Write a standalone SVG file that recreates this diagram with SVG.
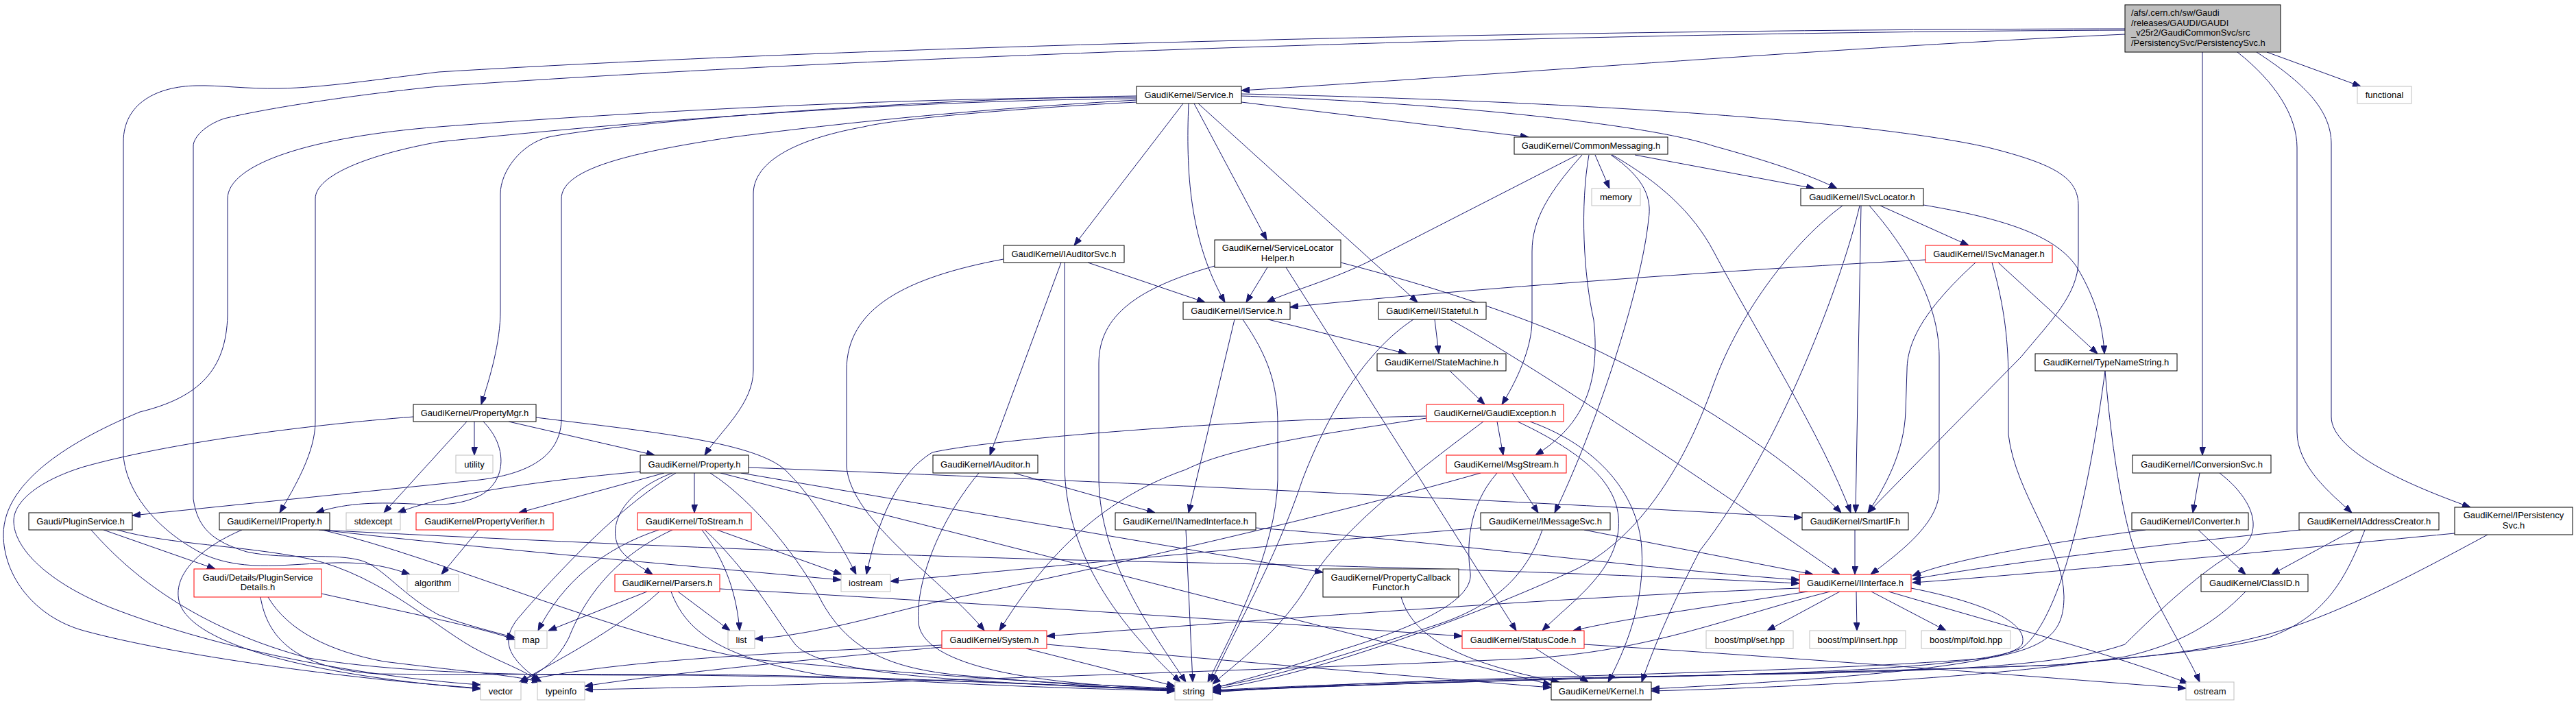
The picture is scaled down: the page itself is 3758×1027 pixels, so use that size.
<svg xmlns="http://www.w3.org/2000/svg" width="3758" height="1027" viewBox="0 0 3758 1027">
<defs>
<style>
.bg{fill:#ffffff}
.n rect{fill:#ffffff;stroke:#000000;stroke-width:1}
.r rect{fill:#ffffff;stroke:#ff0000;stroke-width:1}
.g rect{fill:#ffffff;stroke:#bfbfbf;stroke-width:1}
.m rect{fill:#bfbfbf;stroke:#000000;stroke-width:1}
text{font-family:"Liberation Sans",Arial,Helvetica,sans-serif;font-size:13px;fill:#000000;text-anchor:middle}
.m text{text-anchor:start}
#edges path{fill:none;stroke:#191970;stroke-width:1;marker-end:url(#ah)}
</style>
<marker id="ah" viewBox="0 0 12 9" refX="12" refY="4.5" markerWidth="12" markerHeight="9" markerUnits="userSpaceOnUse" orient="auto">
<path d="M0,0 L12,4.5 L0,9 z" fill="#191970" stroke="#191970" stroke-width="1"/>
</marker>
</defs>
<rect class="bg" x="0" y="0" width="3758" height="1027"/>

<g id="edges">
<path d="M3100,50 C2700,68 2200,108 1811,132"/>
<path d="M3307,76 L3444,126"/>
<path d="M3213,76 L3213,664"/>
<path d="M3264,76 C3320,120 3351,170 3351,215 L3351,630 C3351,680 3400,720 3431,748"/>
<path d="M3292,76 C3360,120 3401,160 3401,210 L3401,608 C3401,660 3520,710 3604,740"/>
<path d="M3100,42 C2300,43 1300,65 640,105 C550,116 470,128 408,129 C360,130 320,124 286,125 C230,126 180,150 180,207 L180,665 C185,720 230,775 300,810 C360,835 420,822 490,821 C540,820 570,828 598,838"/>
<path d="M3100,44 C2300,47 1300,80 640,126 C500,140 380,160 327,173 C300,182 282,200 282,213 L282,728 C288,770 310,790 360,805 C420,818 490,805 531,819 C560,830 590,870 640,897 C680,912 720,922 751,930"/>
<path d="M1811,149 L2230,200"/>
<path d="M1811,140 C2100,150 2400,180 2500,213 C2580,235 2640,255 2680,275"/>
<path d="M1811,137 C2200,145 2700,170 2900,215 C3000,240 3032,260 3032,300 L3032,380 C3032,430 2990,470 2949,520 L2725,748"/>
<path d="M1726,151 L1567,358"/>
<path d="M1734,151 C1730,250 1735,350 1787,441"/>
<path d="M1742,151 L1848,350"/>
<path d="M1748,151 L2068,441"/>
<path d="M1658,140 C1300,145 900,180 800,200 C760,210 730,250 730,283 L730,453 C730,500 715,550 702,590"/>
<path d="M1658,149 C1450,160 1300,175 1260,185 C1150,205 1099,240 1099,283 L1099,540 C1099,590 1050,630 1028,664"/>
<path d="M1658,146 C1500,155 1300,170 1069,200 C900,225 819,250 819,290 L819,610 C819,660 780,690 700,700 L193,752"/>
<path d="M1658,144 C1300,146 900,180 640,207 C540,225 460,255 460,290 L460,615 C460,660 430,710 408,748"/>
<path d="M1658,142 C1300,142 900,165 640,185 C450,200 332,240 332,290 L332,460 C330,540 290,580 204,601 C110,640 5,700 5,780 C5,840 50,900 122,920 C250,955 500,990 701,1004"/>
<path d="M692,615 L692,664"/>
<path d="M742,615 L955,664"/>
<path d="M681,615 L560,748"/>
<path d="M705,615 C740,650 740,700 702,722 C670,738 640,737 600,735 C540,732 500,735 461,748"/>
<path d="M782,609 C950,630 1110,645 1150,690 C1190,730 1230,800 1249,838"/>
<path d="M603,608 C450,620 250,645 122,681 C60,700 20,730 20,760 C20,800 70,850 163,887 C300,940 500,985 701,999"/>
<path d="M2327,226 L2348,275"/>
<path d="M2385,226 L2647,275"/>
<path d="M2301,226 L2000,380 C1940,410 1880,425 1848,441"/>
<path d="M2308,226 C2260,280 2235,320 2235,367 L2235,467 C2235,510 2210,560 2191,590"/>
<path d="M2318,226 C2305,300 2310,400 2325,467 C2335,560 2310,620 2240,664"/>
<path d="M2350,226 C2400,260 2410,290 2405,320 C2395,420 2330,620 2268,748"/>
<path d="M2352,226 C2420,265 2470,310 2500,367 C2560,480 2660,640 2700,748"/>
<path d="M2743,300 L2872,358"/>
<path d="M2806,299 C2930,320 3000,345 3030,390 C3060,440 3068,480 3070,516"/>
<path d="M2715,300 L2707,748"/>
<path d="M2727,300 C2780,360 2829,440 2829,520 L2829,715 C2829,760 2780,800 2729,838"/>
<path d="M2713,300 C2690,400 2600,650 2480,803 C2440,880 2410,950 2395,995"/>
<path d="M2688,300 C2620,350 2540,450 2500,560 C2450,700 2380,790 2300,830 C2150,900 1900,990 1769,1005"/>
<path d="M1587,383 L1758,441"/>
<path d="M1548,383 L1444,664"/>
<path d="M1553,383 L1553,680 C1555,800 1620,900 1722,995"/>
<path d="M1464,378 C1320,405 1235,450 1235,540 L1235,680 C1240,760 1380,850 1436,920"/>
<path d="M1849,390 L1818,441"/>
<path d="M1772,388 C1660,420 1603,460 1603,530 L1603,700 C1605,820 1680,920 1730,995"/>
<path d="M1876,390 L2212,920"/>
<path d="M1956,383 C2100,420 2250,470 2348,520 C2450,570 2600,660 2686,748"/>
<path d="M2809,379 C2500,395 2100,425 1882,448"/>
<path d="M2915,383 L3060,516"/>
<path d="M2882,383 C2820,440 2782,490 2782,540 L2780,600 C2778,660 2750,710 2725,748"/>
<path d="M2906,383 C2925,450 2930,500 2930,560 L2930,634 C2940,720 3011,800 3011,870 C3011,920 2990,945 2900,960 C2600,985 2100,985 1769,1010"/>
<path d="M1801,466 L1734,748"/>
<path d="M1850,466 L2052,516"/>
<path d="M1813,466 C1850,520 1864,560 1864,620 L1864,700 C1862,800 1800,920 1762,995"/>
<path d="M2093,466 L2099,516"/>
<path d="M2115,466 C2180,500 2400,640 2684,838"/>
<path d="M2062,466 C2010,500 1950,570 1900,700 C1860,820 1800,920 1767,995"/>
<path d="M2115,541 L2166,590"/>
<path d="M3071,541 C3050,700 3010,900 2950,945 C2880,980 2500,985 2300,990 C2000,998 1850,1005 1769,1008"/>
<path d="M3071,541 C3080,650 3095,740 3110,790 C3140,880 3190,950 3209,995"/>
<path d="M969,690 L757,748"/>
<path d="M1013,690 L1013,748"/>
<path d="M981,690 C900,720 880,780 912,810 C925,822 940,830 952,838"/>
<path d="M986,690 C900,740 800,850 755,903 C730,935 740,960 790,995"/>
<path d="M1036,690 C1100,730 1170,820 1200,880 C1240,950 1300,975 1400,985 C1550,998 1650,1005 1714,1008"/>
<path d="M1051,690 L2263,999"/>
<path d="M1081,690 L1930,835"/>
<path d="M1092,682 C1500,697 2200,730 2629,755"/>
<path d="M934,688 C800,700 650,720 580,748"/>
<path d="M2184,615 L2193,664"/>
<path d="M2214,615 C2330,670 2370,720 2360,780 C2350,840 2290,880 2250,920"/>
<path d="M2232,615 C2330,650 2390,720 2395,800 C2400,880 2370,950 2346,995"/>
<path d="M2081,607 C1800,612 1450,640 1360,660 C1310,690 1280,760 1264,838"/>
<path d="M2081,610 C1950,630 1800,650 1730,685 C1600,730 1520,820 1458,920"/>
<path d="M2164,615 C2050,700 1950,780 1910,850 C1870,920 1800,970 1769,998"/>
<path d="M2206,690 L2244,748"/>
<path d="M2184,690 C2140,740 2140,800 2145,836 C2150,880 2050,920 1950,950 C1880,975 1800,995 1769,1005"/>
<path d="M2160,690 C1950,750 1600,830 1380,875 C1300,892 1200,925 1101,932"/>
<path d="M1479,690 L1685,748"/>
<path d="M1428,690 C1370,760 1335,850 1340,910 C1350,980 1550,1000 1714,1005"/>
<path d="M151,773 L314,830"/>
<path d="M133,773 C200,850 300,920 450,960 C600,985 800,985 1000,985 C1400,990 1600,1003 1714,1006"/>
<path d="M171,773 C250,795 350,795 450,815 C560,840 640,920 700,950 C740,970 770,980 786,995"/>
<path d="M469,866 C600,895 700,915 751,933"/>
<path d="M380,871 C390,930 430,975 550,983 C700,985 900,982 1100,985 C1400,990 1600,1004 1714,1007"/>
<path d="M391,871 C420,920 480,950 560,965 C680,980 750,985 788,995"/>
<path d="M353,773 C290,800 250,840 262,880 C282,940 450,985 701,1005"/>
<path d="M470,773 C650,815 900,930 1100,962 C1400,990 1600,1000 1714,1004"/>
<path d="M465,773 C800,790 1300,812 1700,820 C2100,828 2400,840 2625,851"/>
<path d="M469,773 C700,800 1000,825 1227,846"/>
<path d="M961,773 C880,800 820,850 785,920"/>
<path d="M981,773 C890,815 850,880 830,930 C810,970 780,985 758,995"/>
<path d="M1024,773 C1060,820 1075,870 1079,920"/>
<path d="M1028,773 C1090,830 1130,900 1160,940 C1200,985 1400,995 1714,1006"/>
<path d="M1046,773 L1228,838"/>
<path d="M944,863 L800,920"/>
<path d="M962,863 C900,920 800,970 758,995"/>
<path d="M989,863 L1065,920"/>
<path d="M979,863 C1000,920 1050,960 1200,985 C1400,1000 1600,1005 1714,1008"/>
<path d="M1050,859 C1400,878 1800,905 2133,928"/>
<path d="M698,773 L644,838"/>
<path d="M1730,773 L1740,995"/>
<path d="M1832,770 C2100,790 2400,830 2625,846"/>
<path d="M2160,770 C1800,800 1500,830 1299,848"/>
<path d="M2250,773 C2230,830 2190,880 2100,910 C1950,960 1850,990 1769,1003"/>
<path d="M2311,773 L2645,838"/>
<path d="M2706,773 L2706,838"/>
<path d="M3209,690 L3199,748"/>
<path d="M3238,690 C3290,730 3305,780 3262,805 C3215,830 3150,890 3100,940 C3000,975 2800,980 2500,985 C2100,992 1900,1000 1769,1007"/>
<path d="M3130,773 C3000,790 2850,815 2790,840"/>
<path d="M3207,773 L3276,838"/>
<path d="M3356,773 C3100,800 2900,825 2790,845"/>
<path d="M3434,773 L3314,838"/>
<path d="M3450,773 C3420,850 3390,900 3310,930 C3230,950 3150,955 3000,970 C2700,982 2000,995 1769,1008"/>
<path d="M3581,778 C3300,805 3000,835 2790,850"/>
<path d="M3629,780 C3500,850 3400,900 3310,925 C3200,955 3100,960 3000,970 C2700,982 2000,995 1769,1009"/>
<path d="M2684,863 L2578,920"/>
<path d="M2708,863 L2709,920"/>
<path d="M2730,863 L2839,920"/>
<path d="M2625,858 C2300,870 1900,900 1527,928"/>
<path d="M2637,863 C2500,885 2380,900 2295,920"/>
<path d="M2670,863 C2520,900 2400,955 2200,962 C1900,975 1200,1000 853,1006"/>
<path d="M2755,863 C2950,920 3100,960 3192,997"/>
<path d="M2788,858 C2900,880 2960,910 2950,940 C2930,975 2600,995 2409,1005"/>
<path d="M1527,940 C1800,965 2100,990 2263,1003"/>
<path d="M1497,946 L1714,1001"/>
<path d="M1374,941 C1200,950 900,960 757,995"/>
<path d="M1374,944 C1200,960 950,985 853,1001"/>
<path d="M2240,946 L2317,995"/>
<path d="M2311,940 C2700,965 3000,990 3189,1004"/>
<path d="M2044,871 C2060,925 2120,965 2275,995"/>
<path d="M3276,863 C3230,910 3180,940 3100,958 C2900,990 2600,1003 2409,1008"/>
</g>

<g id="node-main" class="m"><rect x="3100" y="7" width="227" height="69"/>
<text x="3109" y="23">/afs/.cern.ch/sw/Gaudi</text>
<text x="3109" y="38">/releases/GAUDI/GAUDI</text>
<text x="3109" y="52">_v25r2/GaudiCommonSvc/src</text>
<text x="3109" y="67">/PersistencySvc/PersistencySvc.h</text></g>
<g id="node-functional" class="g"><rect x="3439" y="126" width="79" height="25"/><text x="3478.5" y="143">functional</text></g>
<g id="node-service" class="n"><rect x="1658" y="126" width="153" height="25"/><text x="1734.5" y="143">GaudiKernel/Service.h</text></g>
<g id="node-commonmessaging" class="n"><rect x="2209" y="200" width="224" height="25"/><text x="2321" y="217">GaudiKernel/CommonMessaging.h</text></g>
<g id="node-memory" class="g"><rect x="2322" y="275" width="71" height="25"/><text x="2357.5" y="292">memory</text></g>
<g id="node-isvclocator" class="n"><rect x="2627" y="275" width="179" height="25"/><text x="2716.5" y="292">GaudiKernel/ISvcLocator.h</text></g>
<g id="node-iauditorsvc" class="n"><rect x="1464" y="358" width="176" height="25"/><text x="1552" y="375">GaudiKernel/IAuditorSvc.h</text></g>
<g id="node-servicelocatorhelper" class="n"><rect x="1772" y="350" width="184" height="40"/><text x="1864" y="366">GaudiKernel/ServiceLocator</text><text x="1864" y="381">Helper.h</text></g>
<g id="node-isvcmanager" class="r"><rect x="2809" y="358" width="185" height="25"/><text x="2901.5" y="375">GaudiKernel/ISvcManager.h</text></g>
<g id="node-iservice" class="n"><rect x="1726" y="441" width="156" height="25"/><text x="1804" y="458">GaudiKernel/IService.h</text></g>
<g id="node-istateful" class="n"><rect x="2011" y="441" width="157" height="25"/><text x="2089.5" y="458">GaudiKernel/IStateful.h</text></g>
<g id="node-statemachine" class="n"><rect x="2009" y="516" width="188" height="25"/><text x="2103" y="533">GaudiKernel/StateMachine.h</text></g>
<g id="node-typenamestring" class="n"><rect x="2969" y="516" width="207" height="25"/><text x="3072.5" y="533">GaudiKernel/TypeNameString.h</text></g>
<g id="node-propertymgr" class="n"><rect x="603" y="590" width="179" height="25"/><text x="692.5" y="607">GaudiKernel/PropertyMgr.h</text></g>
<g id="node-utility" class="g"><rect x="665" y="664" width="54" height="26"/><text x="692" y="681.5">utility</text></g>
<g id="node-property" class="n"><rect x="934" y="664" width="158" height="26"/><text x="1013" y="681.5">GaudiKernel/Property.h</text></g>
<g id="node-gaudiexception" class="r"><rect x="2081" y="590" width="200" height="25"/><text x="2181" y="607">GaudiKernel/GaudiException.h</text></g>
<g id="node-iauditor" class="n"><rect x="1361" y="664" width="153" height="26"/><text x="1437.5" y="681.5">GaudiKernel/IAuditor.h</text></g>
<g id="node-msgstream" class="r"><rect x="2110" y="664" width="175" height="26"/><text x="2197.5" y="681.5">GaudiKernel/MsgStream.h</text></g>
<g id="node-iconversionsvc" class="n"><rect x="3111" y="664" width="202" height="26"/><text x="3212" y="681.5">GaudiKernel/IConversionSvc.h</text></g>
<g id="node-pluginservice" class="n"><rect x="42" y="748" width="151" height="25"/><text x="117.5" y="765">Gaudi/PluginService.h</text></g>
<g id="node-iproperty" class="n"><rect x="320" y="748" width="161" height="25"/><text x="400.5" y="765">GaudiKernel/IProperty.h</text></g>
<g id="node-stdexcept" class="g"><rect x="505" y="748" width="79" height="25"/><text x="544.5" y="765">stdexcept</text></g>
<g id="node-propertyverifier" class="r"><rect x="607" y="748" width="200" height="25"/><text x="707" y="765">GaudiKernel/PropertyVerifier.h</text></g>
<g id="node-tostream" class="r"><rect x="930" y="748" width="166" height="25"/><text x="1013" y="765">GaudiKernel/ToStream.h</text></g>
<g id="node-inamedinterface" class="n"><rect x="1627" y="748" width="205" height="25"/><text x="1729.5" y="765">GaudiKernel/INamedInterface.h</text></g>
<g id="node-imessagesvc" class="n"><rect x="2160" y="748" width="189" height="25"/><text x="2254.5" y="765">GaudiKernel/IMessageSvc.h</text></g>
<g id="node-smartif" class="n"><rect x="2629" y="748" width="155" height="25"/><text x="2706.5" y="765">GaudiKernel/SmartIF.h</text></g>
<g id="node-iconverter" class="n"><rect x="3110" y="748" width="170" height="25"/><text x="3195" y="765">GaudiKernel/IConverter.h</text></g>
<g id="node-iaddresscreator" class="n"><rect x="3354" y="748" width="204" height="25"/><text x="3456" y="765">GaudiKernel/IAddressCreator.h</text></g>
<g id="node-ipersistencysvc" class="n"><rect x="3581" y="740" width="172" height="40"/><text x="3667" y="756">GaudiKernel/IPersistency</text><text x="3667" y="771">Svc.h</text></g>
<g id="node-pluginservicedetails" class="r"><rect x="283" y="830" width="186" height="41"/><text x="376" y="846.5">Gaudi/Details/PluginService</text><text x="376" y="861">Details.h</text></g>
<g id="node-algorithm" class="g"><rect x="594" y="838" width="75" height="25"/><text x="631.5" y="855">algorithm</text></g>
<g id="node-parsers" class="r"><rect x="897" y="838" width="153" height="25"/><text x="973.5" y="855">GaudiKernel/Parsers.h</text></g>
<g id="node-iostream" class="g"><rect x="1227" y="838" width="72" height="25"/><text x="1263" y="855">iostream</text></g>
<g id="node-propertycallbackfunctor" class="n"><rect x="1930" y="830" width="198" height="41"/><text x="2029" y="846.5">GaudiKernel/PropertyCallback</text><text x="2029" y="861">Functor.h</text></g>
<g id="node-iinterface" class="r"><rect x="2625" y="838" width="163" height="25"/><text x="2706.5" y="855">GaudiKernel/IInterface.h</text></g>
<g id="node-classid" class="n"><rect x="3211" y="838" width="156" height="25"/><text x="3289" y="855">GaudiKernel/ClassID.h</text></g>
<g id="node-map" class="g"><rect x="751" y="920" width="47" height="26"/><text x="774.5" y="937.5">map</text></g>
<g id="node-list" class="g"><rect x="1062" y="920" width="39" height="26"/><text x="1081.5" y="937.5">list</text></g>
<g id="node-system" class="r"><rect x="1374" y="920" width="153" height="26"/><text x="1450.5" y="937.5">GaudiKernel/System.h</text></g>
<g id="node-statuscode" class="r"><rect x="2133" y="920" width="178" height="26"/><text x="2222" y="937.5">GaudiKernel/StatusCode.h</text></g>
<g id="node-mplset" class="g"><rect x="2489" y="920" width="127" height="26"/><text x="2552.5" y="937.5">boost/mpl/set.hpp</text></g>
<g id="node-mplinsert" class="g"><rect x="2640" y="920" width="140" height="26"/><text x="2710" y="937.5">boost/mpl/insert.hpp</text></g>
<g id="node-mplfold" class="g"><rect x="2803" y="920" width="130" height="26"/><text x="2868" y="937.5">boost/mpl/fold.hpp</text></g>
<g id="node-vector" class="g"><rect x="701" y="995" width="59" height="26"/><text x="730.5" y="1012.5">vector</text></g>
<g id="node-typeinfo" class="g"><rect x="784" y="995" width="69" height="26"/><text x="818.5" y="1012.5">typeinfo</text></g>
<g id="node-string" class="g"><rect x="1714" y="995" width="55" height="26"/><text x="1741.5" y="1012.5">string</text></g>
<g id="node-kernel" class="n"><rect x="2263" y="995" width="146" height="26"/><text x="2336" y="1012.5">GaudiKernel/Kernel.h</text></g>
<g id="node-ostream" class="g"><rect x="3189" y="995" width="70" height="26"/><text x="3224" y="1012.5">ostream</text></g>
</svg>
